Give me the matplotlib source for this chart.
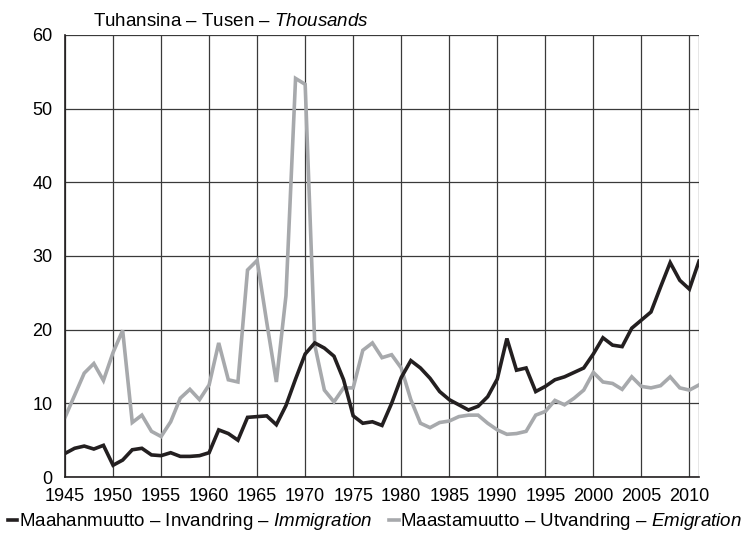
import numpy as np
import matplotlib
matplotlib.use("Agg")
import matplotlib.pyplot as plt

# Vuodet ja muuttoliike (tuhansina)
years = np.arange(1945, 2012)

immigration = [3.2, 3.9, 4.2, 3.8, 4.3, 1.6, 2.3, 3.7, 3.9, 3.0,
               2.9, 3.3, 2.8, 2.8, 2.9, 3.3, 6.4, 5.9, 5.0, 8.1,
               8.2, 8.3, 7.1, 9.7, 13.3, 16.7, 18.2, 17.5, 16.4, 13.2,
               8.3, 7.3, 7.5, 7.0, 10.0, 13.5, 15.8, 14.8, 13.4, 11.6,
               10.5, 9.8, 9.1, 9.6, 10.9, 13.3, 18.8, 14.5, 14.8, 11.6,
               12.3, 13.2, 13.6, 14.2, 14.8, 16.7, 18.9, 17.9, 17.7, 20.2,
               21.3, 22.4, 25.8, 29.1, 26.7, 25.5, 29.3]

emigration = [8.1, 11.1, 14.1, 15.4, 13.1, 16.9, 19.9, 7.4, 8.4, 6.2,
              5.5, 7.5, 10.7, 11.9, 10.5, 12.5, 18.2, 13.2, 12.9, 28.1,
              29.4, 21.0, 12.9, 24.6, 54.1, 53.3, 17.9, 11.8, 10.2, 12.1,
              12.1, 17.2, 18.2, 16.2, 16.6, 14.8, 10.5, 7.3, 6.7, 7.4,
              7.6, 8.2, 8.4, 8.4, 7.3, 6.4, 5.8, 5.9, 6.2, 8.4,
              8.9, 10.4, 9.8, 10.7, 11.8, 14.2, 12.9, 12.7, 11.9, 13.6,
              12.3, 12.1, 12.4, 13.6, 12.1, 11.8, 12.5]

xticks = list(range(1945, 2011, 5))
yticks = [0, 10, 20, 30, 40, 50, 60]

plt.rcParams['font.family'] = ['Liberation Sans', 'DejaVu Sans']
plt.rcParams['mathtext.fontset'] = 'custom'
plt.rcParams['mathtext.rm'] = 'Liberation Sans'
plt.rcParams['mathtext.it'] = 'Liberation Sans:italic'

fig = plt.figure(figsize=(7.5, 5.34), dpi=100)
ax = fig.add_axes([0.0867, 0.1067, 0.8453, 0.8278])

ax.plot(years, immigration, color="#231f20", lw=2.6, solid_joinstyle="miter",
        label=r"Maahanmuutto – Invandring – $\it{Immigration}$", zorder=3)
ax.plot(years, emigration, color="#a7a9ac", lw=2.6, solid_joinstyle="miter",
        label=r"Maastamuutto – Utvandring – $\it{Emigration}$", zorder=2)

ax.set_xlim(1945, 2011)
ax.set_ylim(0, 60)
ax.set_xticks(xticks + [2011])
ax.set_xticklabels([str(t) for t in xticks] + [""])
ax.set_yticks(yticks)
ax.tick_params(axis="x", length=0, labelsize=13, pad=8)
ax.tick_params(axis="y", length=0, labelsize=13, pad=9)
ax.grid(True, color="#3a3a3a", lw=0.9)
for side in ["top", "right"]:
    ax.spines[side].set_visible(False)
for side in ["left", "bottom"]:
    ax.spines[side].set_color("#231f20")
    ax.spines[side].set_linewidth(1.2)

fig.text(0.124, 0.951, r"Tuhansina – Tusen – $\it{Thousands}$", fontsize=13.5)

fig.legend(loc="lower center", bbox_to_anchor=(0.5, -0.028), ncol=2, frameon=False,
           fontsize=13.5, handlelength=0.5, handletextpad=0.1, columnspacing=0.9)

fig.savefig("out.png", dpi=100)
